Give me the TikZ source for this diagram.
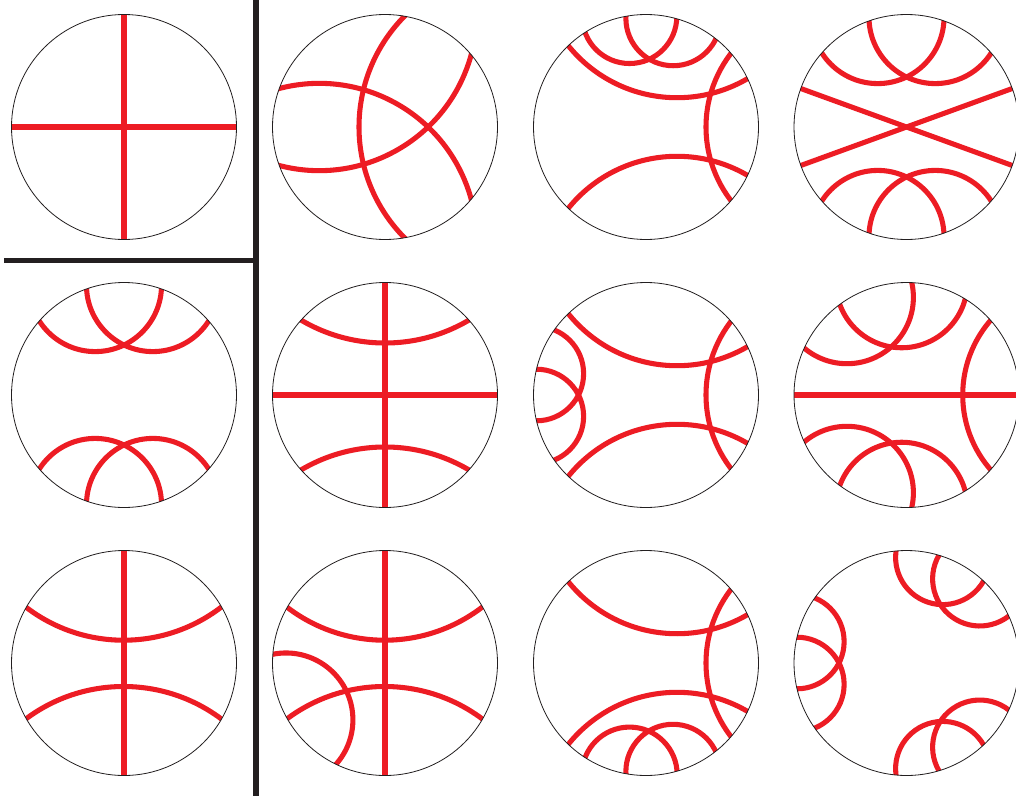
\documentclass[tikz,border=0pt]{standalone}
\usepackage{xfp}
\definecolor{geored}{RGB}{237,28,36}
\definecolor{ink}{RGB}{35,31,32}
\tikzset{
  geo/.style={draw=geored, line width=3.8pt},
  rim/.style={draw=ink, line width=0.6pt},
  divider/.style={draw=ink, line width=3.9pt},
}
% arc through two boundary points (projected onto the rim) and one inner point; px, relative to disk centre, y up
\newcommand\geo[6]{%
  \edef\gAx{\fpeval{(#1)/sqrt((#1)^2+(#2)^2)}}%
  \edef\gAy{\fpeval{(#2)/sqrt((#1)^2+(#2)^2)}}%
  \edef\gBx{\fpeval{(#3)/112.5}}%
  \edef\gBy{\fpeval{(#4)/112.5}}%
  \edef\gCx{\fpeval{(#5)/sqrt((#5)^2+(#6)^2)}}%
  \edef\gCy{\fpeval{(#6)/sqrt((#5)^2+(#6)^2)}}%
  \edef\gD{\fpeval{2*((\gAx)*((\gBy)-(\gCy))+(\gBx)*((\gCy)-(\gAy))+(\gCx)*((\gAy)-(\gBy)))}}%
  \edef\gUx{\fpeval{round((((\gAx)^2+(\gAy)^2)*((\gBy)-(\gCy))+((\gBx)^2+(\gBy)^2)*((\gCy)-(\gAy))+((\gCx)^2+(\gCy)^2)*((\gAy)-(\gBy)))/(\gD),5)}}%
  \edef\gUy{\fpeval{round((((\gAx)^2+(\gAy)^2)*((\gCx)-(\gBx))+((\gBx)^2+(\gBy)^2)*((\gAx)-(\gCx))+((\gCx)^2+(\gCy)^2)*((\gBx)-(\gAx)))/(\gD),5)}}%
  \edef\gR{\fpeval{round(sqrt(((\gAx)-(\gUx))^2+((\gAy)-(\gUy))^2),5)}}%
  \draw[geo] (\gUx,\gUy) circle[radius=\gR];%
}
\newcommand\diam[1]{\draw[geo] (#1:1.2) -- ({#1+180}:1.2);}
\newcommand\disk[3]{%
  \begin{scope}[shift={(#1,#2)}, x=84.375pt, y=84.375pt]
    \begin{scope}
      \clip (0,0) circle[radius=1];
      #3
    \end{scope}
    \draw[rim] (0,0) circle[radius=1];
  \end{scope}}
\newcommand\rightarcs{%
  \geo{84.7}{73.4}{60}{0}{84.7}{-73.4}%
  \geo{-77.7}{81.3}{32.3}{29.3}{100.7}{48}%
  \geo{-77.7}{-81.3}{32.3}{-29.3}{100.7}{-48}}
\newcommand\leftpair{%
  \geo{-91.7}{65}{-67.5}{0}{-109.5}{-25.8}%
  \geo{-109.5}{25.8}{-67.5}{0}{-91.7}{-65}}
\newcommand\toppair{%
  \geo{-85}{74.3}{0}{50}{37.5}{106.3}%
  \geo{85}{74.3}{0}{50}{-37.5}{106.3}}
\newcommand\bottompair{%
  \geo{-85}{-74.3}{0}{-50}{37.5}{-106.3}%
  \geo{85}{-74.3}{0}{-50}{-37.5}{-106.3}}
\begin{document}
\begin{tikzpicture}[x=0.75pt, y=-0.75pt]
  \useasboundingbox (0,0) rectangle (1016,803);
  \fill[white] (0,0) rectangle (1016,803);
  % row 1
  \disk{124}{127}{\diam{0}\diam{90}}
  \disk{385}{127}{%
    \foreach \rot in {0,120,240}{%
      \begin{scope}[rotate=\rot]
        \geo{19.5}{110.8}{-26}{0}{19.5}{-110.8}
      \end{scope}}}
  \disk{646}{127}{%
    \rightarcs
    \geo{-61}{94.7}{-21}{63.7}{30.7}{108}
    \geo{-20}{110.3}{25.7}{61.3}{69}{87}}
  \disk{906.5}{127}{\diam{20}\diam{-20}\toppair\bottompair}
  % row 2
  \disk{124}{395}{\toppair\bottompair}
  \disk{385}{395}{%
    \diam{0}\diam{90}
    \geo{-84}{75}{0}{52}{84}{75}
    \geo{-84}{-75}{0}{-52}{84}{-75}}
  \disk{646}{395}{\rightarcs\leftpair}
  \disk{906.5}{395}{%
    \diam{0}
    \geo{83.5}{74.2}{56.2}{0}{83.5}{-74.2}
    \geo{-102.5}{47}{-59.8}{31.3}{5.2}{111.3}
    \geo{-66.5}{90.3}{-14.8}{48}{58.5}{95.7}
    \geo{-102.5}{-47}{-59.8}{-31.3}{5.2}{-111.3}
    \geo{-66.5}{-90.3}{-14.8}{-48}{58.5}{-95.7}}
  % row 3
  \disk{124}{663}{%
    \diam{90}
    \geo{-98}{55.8}{0}{22.8}{97}{55.8}
    \geo{-98}{-55.8}{0}{-23.5}{97}{-55.8}}
  \disk{385}{663}{%
    \diam{90}
    \geo{-98}{55.8}{0}{22.8}{97}{55.8}
    \geo{-98}{-55.8}{0}{-23.5}{97}{-55.8}
    \geo{-111.7}{8.7}{-40}{-25.3}{-49}{-101.3}}
  \disk{646}{663}{%
    \rightarcs
    \geo{-61}{-94.7}{-20}{-64.2}{31}{-108}
    \geo{-20}{-110.3}{25.7}{-61.3}{69}{-87.5}}
  \disk{906.5}{663}{%
    \foreach \rot in {0,120,240}{%
      \begin{scope}[rotate=\rot]
        \leftpair
      \end{scope}}}
  % dividers
  \draw[divider] (256,0) -- (256,796);
  \draw[divider] (4,260.5) -- (256,260.5);
\end{tikzpicture}
\end{document}
